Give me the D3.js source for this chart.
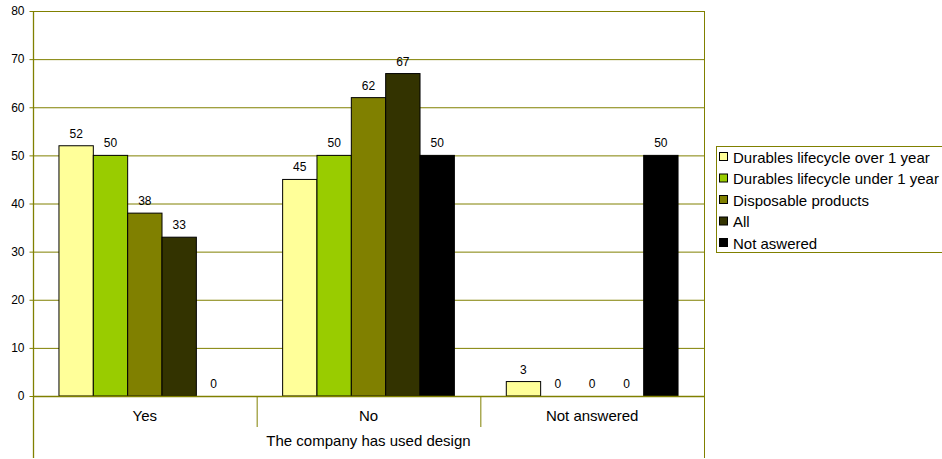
<!DOCTYPE html>
<html><head><meta charset="utf-8">
<script src="https://cdn.jsdelivr.net/npm/d3@7"></script>
<style>body{margin:0;background:#fff}svg{display:block;font-family:"Liberation Sans",Arial,sans-serif}</style>
</head><body><svg id="c" width="942" height="459"></svg>
<script>
const categories = ["Yes", "No", "Not answered"];
const seriesNames = ["Durables lifecycle over 1 year", "Durables lifecycle under 1 year", "Disposable products", "All", "Not aswered"];
const seriesColors = ["#FFFF99", "#99CC00", "#808000", "#333300", "#000000"];
const durablesOver = [52, 45, 3];
const durablesUnder = [50, 50, 0];
const disposable = [38, 62, 0];
const allProducts = [33, 67, 0];
const notAnswered = [0, 50, 50];
const yTicks = [0, 10, 20, 30, 40, 50, 60, 70, 80];
const axisTitle = "The company has used design";

const series = [durablesOver, durablesUnder, disposable, allProducts, notAnswered];
const svg = d3.select("#c");
const L = 33, R = 704, T = 11, B = 396;
const olive = "#808000";

const x0 = d3.scaleBand().domain(categories).range([L, R]).paddingInner(0).paddingOuter(0);
const x1 = d3.scaleBand().domain(d3.range(series.length)).range([0, x0.bandwidth()]).paddingOuter(0.756).paddingInner(0);
const y = d3.scaleLinear().domain([0, 80]).range([B, T]);

// gridlines
svg.append("g").selectAll("line").data(yTicks.filter(d => d > 0)).join("line")
  .attr("x1", L).attr("x2", R).attr("y1", d => y(d) + 0.5).attr("y2", d => y(d) + 0.5)
  .attr("stroke", olive).attr("stroke-width", 1);

// right border
svg.append("line").attr("x1", R + 0.5).attr("x2", R + 0.5).attr("y1", T).attr("y2", 458)
  .attr("stroke", olive);

// y axis
const yAxis = d3.axisLeft(y).tickValues(yTicks).tickSize(4).tickPadding(5);
const ga = svg.append("g").attr("transform", `translate(${L + 0.5},0)`).call(yAxis);
ga.select(".domain").remove();
ga.selectAll(".tick line").attr("stroke", olive);
ga.selectAll(".tick text").attr("font-size", 12).attr("fill", "#000")
  .attr("font-family", "Liberation Sans, Arial, sans-serif");
svg.append("line").attr("x1", L + 0.5).attr("x2", L + 0.5).attr("y1", T).attr("y2", 458)
  .attr("stroke", olive).attr("stroke-width", 1.3);

// bars
const groups = svg.append("g").selectAll("g").data(categories).join("g")
  .attr("transform", c => `translate(${x0(c)},0)`);
groups.each(function(c, ci) {
  const g = d3.select(this);
  series.forEach((s, si) => {
    const v = s[ci];
    if (v > 0) {
      g.append("rect").attr("x", x1(si)).attr("y", y(v))
        .attr("width", x1.bandwidth()).attr("height", y(0) - y(v))
        .attr("fill", seriesColors[si]).attr("stroke", "#000").attr("stroke-width", 1);
    }
    g.append("text").attr("x", x1(si) + x1.bandwidth() / 2).attr("y", y(v) - 8)
      .attr("text-anchor", "middle").attr("font-size", 12).attr("fill", "#000").text(v);
  });
});

// baseline
svg.append("line").attr("x1", L).attr("x2", R + 1).attr("y1", B + 0.5).attr("y2", B + 0.5)
  .attr("stroke", olive).attr("stroke-width", 1.5);

// category separators
svg.append("g").selectAll("line").data(categories.slice(1)).join("line")
  .attr("x1", c => x0(c) + 0.5).attr("x2", c => x0(c) + 0.5).attr("y1", B).attr("y2", 427)
  .attr("stroke", olive);

// category labels
svg.append("g").selectAll("text").data(categories).join("text")
  .attr("x", c => x0(c) + x0.bandwidth() / 2).attr("y", 421)
  .attr("text-anchor", "middle").attr("font-size", 15).text(c => c);

svg.append("text").attr("x", (L + R) / 2).attr("y", 446).attr("text-anchor", "middle")
  .attr("font-size", 15).text(axisTitle);

// legend
const lg = svg.append("g");
lg.append("rect").attr("x", 716.5).attr("y", 146.5).attr("width", 230).attr("height", 106)
  .attr("fill", "#fff").attr("stroke", olive);
seriesNames.forEach((n, i) => {
  const cy = 157 + i * 21.5;
  lg.append("rect").attr("x", 719.5).attr("y", cy - 4.5).attr("width", 8).attr("height", 8)
    .attr("fill", seriesColors[i]).attr("stroke", "#000");
  lg.append("text").attr("x", 733).attr("y", cy + 5.5).attr("font-size", 15).text(n);
});
</script></body></html>
